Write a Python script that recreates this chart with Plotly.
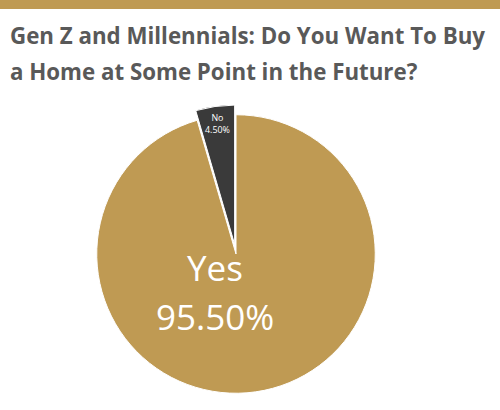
import plotly.graph_objects as go

labels = ["Yes", "No"]
values = [95.5, 4.5]
colors = ["#BF9A53", "#3A3A3A"]
title_lines = ["Gen Z and Millennials: Do You Want To Buy", "a Home at Some Point in the Future?"]

total = sum(values)

fig = go.Figure(go.Pie(
    labels=labels, values=values, sort=False, direction="clockwise", rotation=0,
    marker=dict(colors=colors, line=dict(color="white", width=1)),
    pull=[0, 0.07],
    texttemplate=["", "%{label}<br>%{percent:.2%}"],
    textposition="inside", insidetextorientation="horizontal",
    textfont=dict(color="white", size=11, family="Open Sans"),
    domain=dict(x=[0.174, 0.77], y=[0.017, 0.744]),
    showlegend=False, hoverinfo="skip",
))

annotations = []
for i, line in enumerate(title_lines):
    annotations.append(dict(text="<b>" + line + "</b>", xref="paper", yref="paper",
                            x=8 / 500, y=1 - (53 + 36 * i) / 410, xanchor="left", yanchor="bottom",
                            align="left", showarrow=False,
                            font=dict(family="Open Sans", size=22.3, color="#595959")))
yes_lines = [labels[0], f"{values[0] / total * 100:.2f}%"]
for line, ym in zip(yes_lines, [267.5, 316.5]):
    annotations.append(dict(text=line, xref="paper", yref="paper", x=215 / 500, y=1 - ym / 410,
                            xanchor="center", yanchor="middle", showarrow=False,
                            font=dict(family="Open Sans", size=35, color="white")))

fig.update_layout(
    width=500, height=410, margin=dict(l=0, r=0, t=0, b=0),
    paper_bgcolor="white", plot_bgcolor="white",
    shapes=[dict(type="rect", xref="paper", yref="paper", x0=0, x1=1, y0=1 - 9/410, y1=1,
                 fillcolor="#BF9A53", line=dict(width=0))],
    annotations=annotations,
)
fig.write_html("out.html", config={"displayModeBar": False},
               post_script="document.body.style.margin='0px';")
